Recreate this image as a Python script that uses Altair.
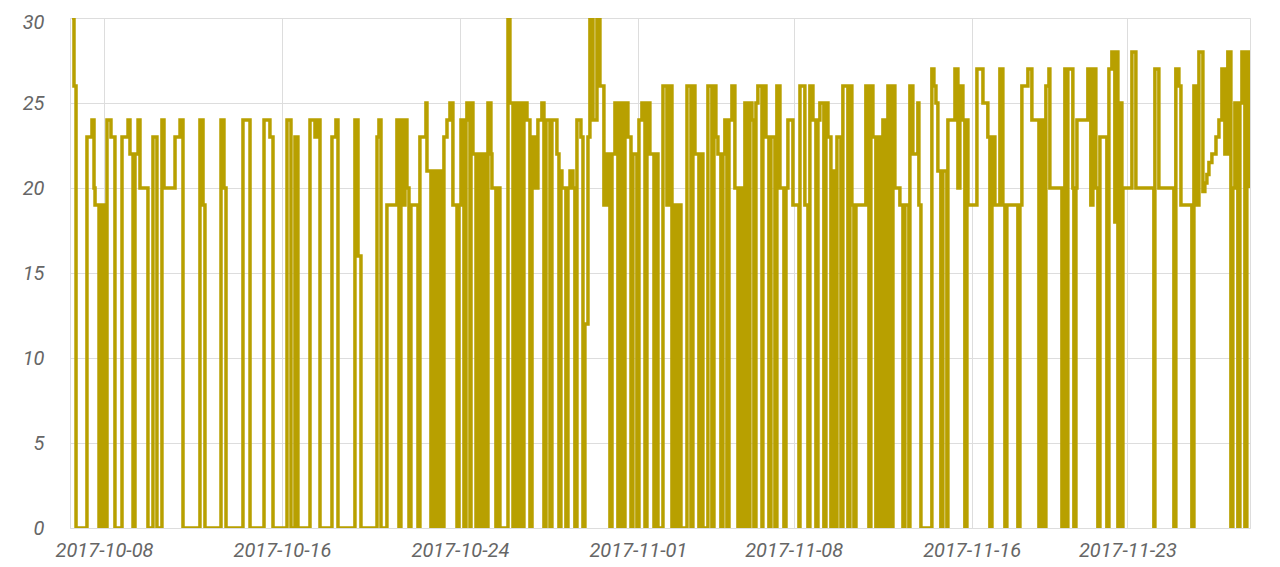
import altair as alt
import pandas as pd

# Readings: (hours since 2017-10-06 11:20, value); each value holds until the next reading.
week_1 = [
    (2.2, 30), (4.3, 26), (6.5, 0), (18.3, 23), (23.7, 24), (25.9, 20), (27.0, 19), (31.3, 0),
    (33.4, 19), (36.7, 0), (39.9, 24), (44.2, 23), (48.5, 0), (56.1, 23), (62.6, 24), (64.7, 22),
    (68.0, 0), (70.1, 22), (73.4, 24), (75.5, 20), (84.1, 0), (89.5, 23), (93.8, 0), (99.2, 24),
    (101.4, 20), (113.3, 23), (118.7, 24), (121.9, 0), (140.2, 24), (143.5, 19), (145.6, 0),
    (162.9, 24), (166.1, 20), (168.3, 0), (186.6, 24), (194.2, 0),
]
week_2 = [
    (209.3, 24), (215.7, 23), (219.0, 0), (234.1, 24), (238.4, 0), (242.7, 23), (245.9, 0),
    (258.9, 24), (264.3, 23), (267.5, 24), (269.7, 0), (282.6, 23), (286.9, 24), (289.1, 0),
    (307.4, 24), (310.7, 16), (313.9, 0), (331.2, 23), (333.3, 24), (335.5, 0), (341.9, 19),
    (352.7, 24), (354.9, 0), (357.0, 24), (359.2, 19), (361.4, 24), (363.5, 20), (365.7, 0),
    (367.8, 19), (375.4, 0), (377.5, 23), (384.0, 25), (385.1, 21), (389.4, 0), (391.6, 21),
    (394.8, 0), (397.0, 21), (400.2, 0), (403.4, 23), (406.7, 24), (409.9, 25),
]
week_3 = [
    (413.1, 19), (417.5, 0), (419.6, 19), (421.8, 24), (425.0, 0), (427.2, 24), (428.2, 25),
    (431.5, 0), (432.6, 25), (434.7, 22), (438.0, 0), (440.1, 22), (443.3, 0), (445.5, 22),
    (448.7, 0), (450.9, 25), (454.1, 22), (455.2, 20), (459.5, 0), (461.7, 20), (463.8, 0),
    (472.5, 30), (474.6, 25), (477.9, 0), (480.0, 25), (483.3, 0), (485.4, 25), (488.6, 0),
    (489.7, 25), (493.0, 24), (496.2, 0), (498.4, 23), (501.6, 20), (504.8, 24), (509.1, 25),
    (511.3, 0), (513.5, 24), (517.8, 0), (519.9, 24), (525.3, 22), (527.5, 0), (529.6, 21),
    (530.7, 20), (535.0, 0), (537.2, 20), (539.4, 21), (542.6, 20), (544.7, 0), (546.9, 24),
    (551.2, 23), (553.4, 0), (555.5, 12), (558.8, 23), (560.9, 30), (564.2, 24), (568.5, 30),
    (571.7, 26), (576.0, 19), (579.3, 22), (582.5, 0), (584.7, 22), (587.9, 25), (591.1, 0),
    (593.3, 25), (596.5, 0), (598.7, 25), (601.9, 23), (605.2, 0), (607.3, 22), (611.6, 0),
    (613.8, 24), (617.0, 25), (620.3, 0), (622.4, 25),
]
week_4 = [
    (625.6, 22), (630.0, 0), (632.1, 22), (634.3, 0), (639.7, 26), (644.0, 19), (647.2, 26),
    (649.4, 0), (650.5, 19), (653.7, 0), (655.8, 19), (659.1, 0), (665.6, 26), (669.9, 0),
    (672.0, 26), (674.2, 22), (678.5, 0), (680.7, 22), (682.8, 0), (688.2, 26), (692.5, 0),
    (694.7, 26), (696.8, 23), (699.0, 22), (702.2, 0), (704.4, 22), (706.5, 24), (708.7, 0),
    (710.9, 24), (714.1, 26), (717.3, 20), (720.6, 0), (722.7, 20), (724.9, 0), (728.1, 25),
    (731.4, 0), (733.5, 25), (735.7, 24), (737.8, 0), (740.0, 25), (742.1, 26), (746.5, 0),
    (747.5, 26), (750.8, 23), (754.0, 0), (756.2, 23), (760.5, 0), (762.6, 26), (765.9, 20),
    (770.2, 0), (772.4, 20), (774.5, 24), (779.9, 19), (786.4, 0), (787.5, 26), (792.8, 19),
    (796.1, 0), (798.2, 26), (801.5, 24), (804.7, 0), (806.9, 24), (809.0, 25), (813.3, 0),
    (815.5, 25), (817.7, 23), (820.9, 0), (822.0, 21), (825.2, 0), (827.4, 23), (831.7, 0),
    (833.8, 26), (839.2, 0),
]
week_5 = [
    (841.4, 26), (843.5, 19), (845.7, 0), (847.9, 19), (858.6, 26), (861.9, 0), (864.0, 26),
    (866.2, 23), (869.4, 0), (871.6, 23), (874.8, 0), (877.0, 24), (880.2, 0), (882.4, 26),
    (885.6, 0), (887.8, 26), (889.9, 20), (895.3, 19), (898.6, 0), (900.7, 19), (905.0, 0),
    (906.1, 26), (909.3, 22), (914.7, 25), (915.8, 19), (918.0, 0), (929.8, 27), (932.0, 26),
    (934.2, 25), (936.3, 21), (939.5, 0), (941.7, 21), (946.0, 0), (947.1, 24), (954.7, 27),
    (957.9, 20), (960.0, 26), (963.3, 24), (965.4, 0), (967.6, 24), (968.7, 19), (978.4, 27),
    (984.9, 25), (990.2, 23), (992.4, 0), (994.6, 23), (997.8, 19), (1003.2, 27), (1006.4, 19),
    (1008.6, 0), (1010.7, 19), (1022.6, 0), (1024.8, 19), (1026.9, 26), (1033.4, 27),
    (1037.7, 24),
]
week_6 = [
    (1045.3, 0), (1047.4, 24), (1050.7, 0), (1052.8, 26), (1056.1, 27), (1057.1, 20),
    (1070.1, 0), (1073.3, 27), (1075.5, 0), (1076.5, 27), (1081.9, 20), (1083.0, 0),
    (1085.2, 20), (1086.3, 24), (1098.1, 27), (1101.3, 19), (1103.5, 27), (1106.7, 20),
    (1108.9, 0), (1111.1, 23), (1118.6, 0), (1120.8, 27), (1124.0, 28), (1127.2, 18),
    (1128.3, 28), (1130.5, 0), (1132.6, 25), (1134.8, 0), (1135.9, 20), (1145.6, 28),
    (1149.9, 20), (1169.3, 0), (1170.4, 27), (1174.7, 20), (1190.9, 0), (1193.0, 27),
    (1196.3, 26), (1198.5, 19), (1210.3, 0), (1212.5, 26), (1215.7, 19), (1217.9, 28),
    (1222.2, 19.8), (1224.3, 20.3), (1226.5, 20.8), (1228.7, 21.5), (1231.9, 22), (1236.3, 23),
    (1239.5, 24), (1242.7, 27), (1245.9, 22), (1249.1, 28), (1252.4, 0), (1254.5, 20),
    (1256.7, 25), (1259.9, 0), (1262.1, 25), (1264.3, 28), (1267.5, 0), (1269.6, 28),
    (1271.8, 26), (1272.9, 20),
]

x_tick_dates = [(2017, 10, 8), (2017, 10, 16), (2017, 10, 24), (2017, 11, 1),
                (2017, 11, 8), (2017, 11, 16), (2017, 11, 23)]
y_ticks = [0, 5, 10, 15, 20, 25, 30]

base = pd.Timestamp("2017-10-06 11:20")
points = week_1 + week_2 + week_3 + week_4 + week_5 + week_6
df = pd.DataFrame({
    "time": [(base + pd.Timedelta(hours=h)).strftime("%Y-%m-%dT%H:%M:%S") for h, _ in points],
    "value": [v for _, v in points],
    "i": list(range(len(points))),
})

label_style = dict(labelFont="Roboto", labelFontStyle="italic", labelFontSize=20,
                   labelColor="#666666", grid=True, gridColor="#dddddd", domain=False,
                   ticks=False, title=None)

chart = alt.Chart(df).mark_line(
    interpolate="step-after", color="#b8a000", strokeWidth=3.5, clip=True
).encode(
    x=alt.X("time:T",
            scale=alt.Scale(domain=[alt.DateTime(year=2017, month=10, date=6, hours=11, minutes=20),
                                    alt.DateTime(year=2017, month=11, date=28, hours=12, minutes=20)],
                            nice=False),
            axis=alt.Axis(values=[alt.DateTime(year=y, month=m, date=d) for y, m, d in x_tick_dates],
                          format="%Y-%m-%d", labelPadding=12, **label_style)),
    y=alt.Y("value:Q", scale=alt.Scale(domain=[0, 30], nice=False),
            axis=alt.Axis(values=y_ticks, labelPadding=26,
                          labelOffset={"expr": "datum.value == 30 ? 4 : 0"}, **label_style)),
    order="i:Q",
).properties(
    width=1180, height=510,
    autosize=alt.AutoSizeParams(type="none"),
    padding={"left": 62, "top": 10, "right": 20, "bottom": 38},
).configure_view(stroke="#dddddd")

chart.save("out.html", embed_options={"renderer": "svg", "actions": False})
